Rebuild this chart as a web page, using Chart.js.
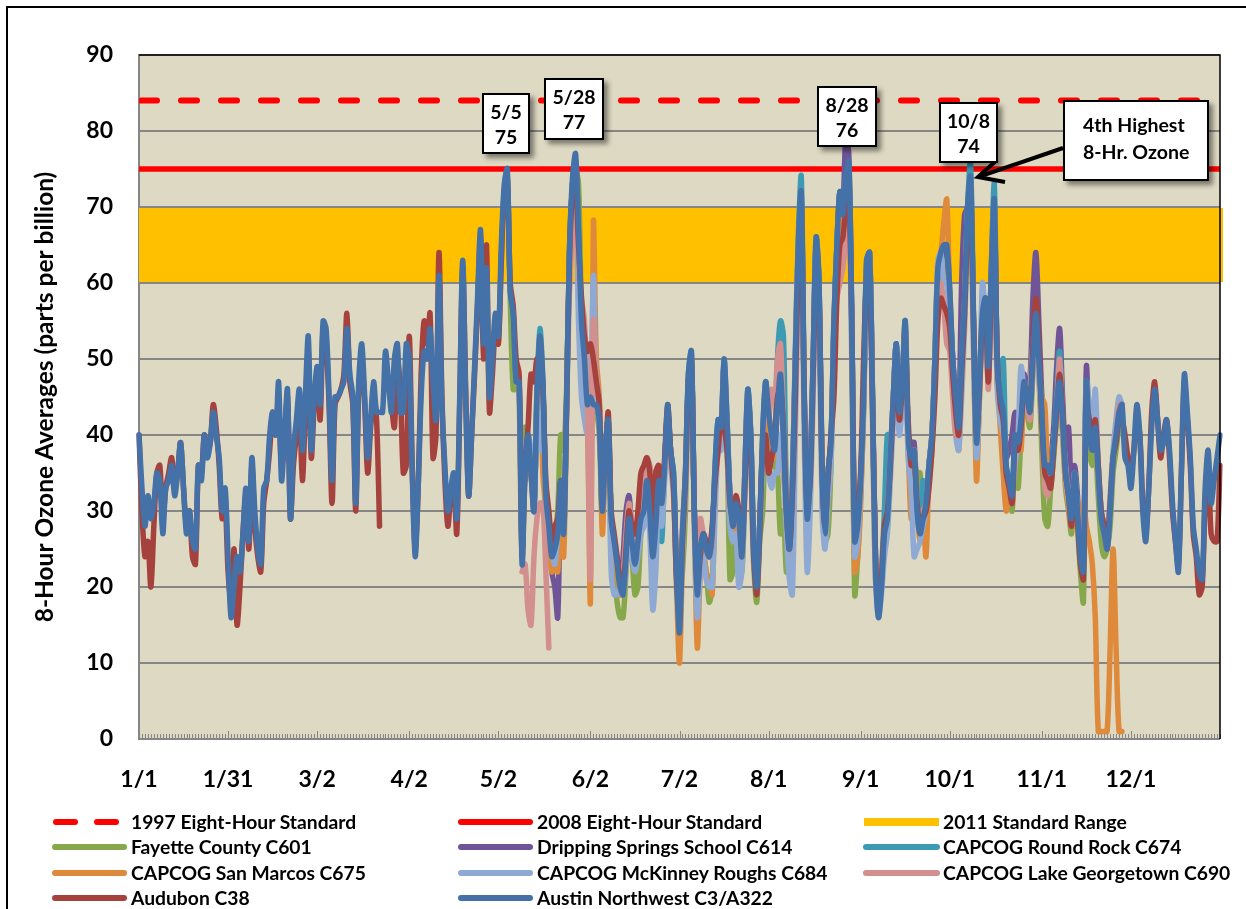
<!DOCTYPE html>
<html>
<head>
<meta charset="utf-8">
<script src="https://cdn.jsdelivr.net/npm/chart.js@4.4.0/dist/chart.umd.min.js"></script>
<style>
  html, body { margin: 0; padding: 0; background: #fff; }
  body { width: 1246px; height: 909px; position: relative; overflow: hidden;
         font-family: Lato, "Open Sans", sans-serif; font-weight: bold; color: #000; }
  #frame { position: absolute; left: 6px; top: 6px; width: 1400px; height: 1100px;
           border: 2px solid #000; box-sizing: border-box; }
  #chartBox { position: absolute; left: 0; top: 0; width: 1246px; height: 909px; }
  .callout { position: absolute; background: #fff; border: 2px solid #000; box-sizing: border-box;
             box-shadow: 4px 4px 5px rgba(0,0,0,0.45); font-size: 19.5px; line-height: 25px;
             text-align: center; padding-top: 4px; }
  .leg { position: absolute; font-size: 19.3px; line-height: 24px; white-space: nowrap; }
  #overlay { position: absolute; left: 0; top: 0; }
</style>
</head>
<body>
<div id="frame"></div>
<div id="chartBox"><canvas id="ozone" width="1246" height="909"></canvas></div>
<svg id="overlay" width="1246" height="909"></svg>
<div class="callout" style="left:482px;top:93px;width:48px;height:61px">5/5<br>75</div>
<div class="callout" style="left:544px;top:78px;width:60px;height:62px">5/28<br>77</div>
<div class="callout" style="left:817px;top:86px;width:60px;height:61px">8/28<br>76</div>
<div class="callout" style="left:939px;top:102px;width:59px;height:61px">10/8<br>74</div>
<div class="callout" style="left:1063px;top:100px;width:146px;height:81px;text-align:left;padding:9px 0 0 18px;line-height:27px">4th Highest<br>8-Hr. Ozone</div>
<div id="legend"></div>

<script>
// standards (ppb)
const std1997 = 84;
const std2008 = 75;
const range2011 = [60, 70];

// x axis: day of year 0..364, labelled days
const tickDays = [0, 30, 60, 91, 121, 152, 182, 212, 243, 273, 304, 334];
const tickLabels = ['1/1', '1/31', '3/2', '4/2', '5/2', '6/2', '7/2', '8/1', '9/1', '10/1', '11/1', '12/1'];

// Austin Northwest C3/A322, whole year
const austinNW = [
  40,33,28,32,29,31,35,34,27,33, 34,36,32,35,39,33,27,30,26,25,
  36,34,40,37,39,43,40,37,30,33, 24,16,20,24,22,27,33,26,37,30,
  25,23,33,34,40,43,40,47,34,40, 46,29,38,42,46,38,45,53,38,45,
  49,44,55,54,45,34,45,45,46,47, 54,48,45,31,47,52,45,37,42,47,
  43,43,43,51,47,43,50,52,43,43, 52,50,35,24,33,45,51,50,54,47,
  42,61,44,36,30,33,35,29,45,63, 45,32,40,49,58,67,52,62,45,50,
  56,53,65,73,75,59,56,47,47,23, 35,40,35,30,45,53,47,32,28,24,
  25,27,34,27,45,65,74,77,67,55, 50,44,45,44,44,42,30,38,42,29,
  26,23,20,19,24,29,26,23,26,29, 30,34,30,24,28,34,31,36,44,38,
  35,22,14,27,35,48,51,30,19,25, 27,25,24,27,36,42,41,50,42,32,
  28,31,29,24,35,46,40,25,20,28, 40,47,43,40,38,44,48,40,30,25,
  33,50,65,72,45,29,35,50,66,60, 35,27,35,39,55,65,72,69,74,76,
  55,26,28,34,45,63,64,45,23,16, 20,27,29,37,45,52,43,47,55,40,
  37,38,30,27,29,31,36,40,50,62, 64,65,65,59,50,45,41,50,58,70,
  74,55,39,47,56,58,49,62,71,49, 45,43,36,34,32,40,39,42,47,45,
  43,50,56,50,43,36,36,35,39,44, 47,42,35,32,29,35,30,24,22,47,
  40,38,41,35,29,27,25,30,37,40, 43,44,37,36,33,38,44,40,30,26,
  33,41,46,42,38,39,42,38,31,26, 22,35,48,43,37,28,25,22,21,33,
  38,31,34,37,40
];

// Audubon C38, whole year (short gap in late March)
const audubon = [
  40,30,24,26,20,28,35,36,29,33, 35,37,33,35,39,33,28,30,24,23,
  36,35,40,38,39,44,41,36,29,31, 22,18,25,15,20,27,32,25,36,28,
  24,22,31,34,38,43,41,43,36,40, 45,29,36,40,44,34,43,51,37,44,
  48,42,54,52,44,31,44,45,46,48, 56,47,44,30,46,50,44,35,41,45,
  42,28,null,null,null,44,41,50,46,35, 36,53,36,25,33,48,55,52,56,37,
  40,64,45,34,28,32,33,27,44,62, 46,32,40,48,57,66,50,65,43,48,
  54,52,63,72,74,60,57,50,48,25, 36,41,48,47,50,50,46,34,30,26,
  28,29,34,29,44,64,72,73,65,58, 53,51,52,50,47,44,32,37,43,30,
  27,24,21,20,25,30,28,27,30,35, 36,37,35,28,35,36,32,37,44,38,
  33,21,16,26,34,47,50,30,20,24, 27,26,25,28,34,38,42,41,38,31,
  29,32,30,25,33,44,38,24,19,27, 38,40,35,37,39,45,46,41,30,25,
  32,45,63,70,45,30,34,48,62,58, 36,28,34,40,45,58,65,66,70,72,
  55,28,30,35,50,60,60,44,24,17, 21,28,30,36,44,50,42,46,52,42,
  36,37,31,28,29,30,33,38,45,55, 58,57,56,54,48,43,40,48,56,67,
  72,55,40,46,55,56,47,60,68,50, 44,42,35,33,31,39,38,41,46,46,
  44,52,58,52,42,35,34,33,38,43, 48,43,35,32,28,34,29,23,21,44,
  42,39,42,36,30,28,26,31,37,39, 42,42,40,37,35,38,42,40,31,27,
  33,43,47,42,37,40,42,37,30,26, 23,35,47,42,36,27,24,19,20,31,
  36,27,26,26,36
];

// seasonal monitors: first day index and values from then on
const fayetteStart = 118;
const fayette = [
  45,50,55,52,63,72,74,58,46,46, 46,26,41,40,36,31,44,51,46,33,
  29,26,27,30,40,38,46,63,72,75, 73,56,49,44,44,43,43,40,29,36,
  40,27,22,18,16,16,22,27,24,19, 20,27,29,33,29,23,27,33,30,35,
  43,37,33,22,18,22,30,46,49,29, 18,23,24,22,18,20,33,40,40,48,
  40,21,22,28,26,22,33,44,37,23, 18,26,30,40,41,38,36,35,27,30,
  22,24,31,48,63,70,43,27,33,48, 64,58,33,26,27,36,52,63,70,67,
  72,74,53,19,24,32,43,61,62,43, 21,18,21,26,28,36,44,50,42,45,
  53,39,35,36,35,35,28,30,34,38, 48,60,62,63,63,57,48,43,39,48,
  56,68,72,53,36,45,54,56,47,60, 69,47,43,41,33,31,30,38,33,40,
  45,43,41,48,54,48,38,29,28,33, 37,42,45,40,33,30,27,33,28,22,
  18,44,38,36,38,32,26,24,25,28, 35,38,41,42
];

const drippingStart = 130;
const dripping = [
  34,39,35,30,44,52,46,31,27,22, 20,16,33,27,44,64,73,76,66,54,
  49,43,44,43,44,42,30,38,41,29, 26,23,20,24,30,32,27,24,26,29,
  30,33,30,25,28,33,31,36,43,38, 34,22,15,26,34,47,50,30,20,25,
  27,25,24,27,35,41,41,49,41,32, 28,30,29,24,34,45,40,25,21,28,
  39,46,42,40,38,44,48,40,30,26, 33,49,64,71,45,29,35,49,65,60,
  35,28,35,39,54,65,72,70,79,77, 56,27,29,34,45,62,64,45,24,17,
  20,27,30,37,45,52,43,47,54,40, 39,39,31,28,29,31,36,40,49,61,
  63,64,64,58,50,45,42,60,69,70, 73,55,40,47,55,57,49,61,70,49,
  45,43,37,38,40,43,40,43,48,46, 47,58,64,55,45,38,37,37,41,49,
  54,45,38,41,32,36,32,25,23,49, 41,39,42,36,30,28,26,31,37,40,
  43,44
];

const roundRockStart = 125;
const roundRock = [
  59,56,47,47,24,36,40,36,31,46, 54,47,32,28,24,25,27,33,27,45,
  65,73,76,66,55,49,44,45,44,44, 42,31,38,42,29,26,23,20,19,24,
  29,26,23,26,29,30,33,30,25,28, 33,26,36,43,38,35,22,15,27,35,
  48,51,30,20,25,27,25,24,27,36, 42,41,50,42,32,28,31,29,24,35,
  46,40,25,21,28,40,47,43,40,38, 50,55,53,32,25,34,51,66,74,46,
  29,35,50,66,60,36,27,35,39,55, 65,72,69,74,75,55,26,28,34,45,
  63,64,45,23,17,22,30,40,38,45, 52,43,47,55,40,37,38,31,29,34,
  31,36,40,50,62,64,65,65,59,50, 45,41,50,58,70,76,56,40,47,56,
  58,49,62,73,49,45,50,36,34,32, 40,39,42,47,45,43,50,56,50,43,
  36,36,35,39,45,51,43,35,32,29, 35,30,25,23,47,40,38,41,35,29,
  27,25,30,37,40,43,44
];

const sanMarcosStart = 128;
const sanMarcos = [
  47,24,35,40,35,31,44,50,35,30, 26,22,23,22,30,24,44,65,73,76,
  66,54,48,42,18,68,50,45,27,36, 40,28,25,22,19,19,23,28,25,22,
  25,28,29,33,29,23,27,33,30,36, 43,37,33,20,10,24,34,47,50,29,
  12,22,25,22,21,19,34,40,40,48, 40,30,27,29,28,23,34,44,38,24,
  20,27,38,44,40,38,37,38,36,35, 29,24,32,49,63,70,44,28,34,48,
  64,58,33,27,34,38,54,64,70,68, 72,73,53,22,24,31,44,62,63,44,
  22,17,21,27,29,36,44,51,42,46, 54,39,29,36,30,26,29,24,35,39,
  50,62,64,68,71,58,49,43,38,48, 57,69,73,54,34,45,55,57,48,61,
  70,48,41,35,30,33,31,38,38,38, 46,44,43,50,55,49,45,44,35,34,
  38,43,46,41,34,31,28,34,29,24, 31,28,26,23,16,1,1,1,1,12,
  25,12,1,1
];

const mcKinneyStart = 128;
const mcKinney = [
  47,25,37,40,38,32,40,38,45,32, 28,25,23,27,33,28,44,60,70,72,
  55,45,42,40,42,61,45,42,31,37, 38,22,19,19,20,19,23,27,24,22,
  24,27,28,31,27,17,22,32,28,34, 41,36,32,21,15,25,33,46,49,28,
  16,22,24,21,20,20,30,38,38,45, 38,28,26,27,20,22,32,43,37,23,
  22,27,36,40,35,33,35,35,40,36, 27,21,19,40,60,68,40,22,30,45,
  62,56,30,25,31,36,50,60,66,63, 70,72,50,24,26,33,44,60,60,42,
  21,16,19,24,27,34,42,49,40,44, 50,37,33,24,25,26,28,30,35,39,
  50,63,64,60,60,55,48,40,38,45, 54,66,70,51,37,45,60,55,47,58,
  66,46,42,40,35,33,33,36,40,49, 46,43,46,52,55,48,42,36,35,35,
  39,43,45,41,36,32,30,35,30,25, 23,47,44,40,46,36,30,28,26,32,
  38,42,45,44
];

const georgetownStart = 129;
const georgetown = [
  22,23,17,15,24,29,31,31,22,12, null,null,null,null,null,
  48,60,66,70,62,58,55,44,21,55, 48,44,33,38,41,29,26,23,21,22,
  27,31,28,26,28,30,33,37,36,34, 30,34,31,36,43,38,34,22,17,28,
  35,47,50,30,21,29,27,25,24,26, 35,41,41,49,41,32,28,31,29,24,
  35,45,39,26,21,28,39,45,42,46, 44,50,52,42,31,27,34,50,64,70,
  46,30,36,50,64,58,37,28,35,39, 52,58,60,62,66,68,55,28,29,35,
  45,62,63,45,24,17,21,27,30,37, 45,51,43,47,54,40,37,38,31,28,
  30,31,36,40,49,58,60,57,52,51, 45,40,40,48,57,69,72,54,40,46,
  55,57,46,60,70,48,44,42,35,33, 31,39,38,41,46,44,42,49,55,49,
  42,33,32,34,38,43,50,42,34,31, 28,34,29,24,22,46,40,38,41,35,
  29,27,25,30,37,40,44,44
];

const DAYS = 365;
const days = Array.from({ length: DAYS }, (_, i) => i);
function fromDay(start, vals) {
  const out = new Array(DAYS).fill(null);
  vals.forEach((v, i) => { if (start + i < DAYS) out[start + i] = v; });
  return out;
}

// legend order; "order" = stacking (0 on top)
const series = [
  { label: 'Fayette County C601',            data: fromDay(fayetteStart, fayette),       color: '#87A84A', order: 7 },
  { label: 'Dripping Springs School C614',   data: fromDay(drippingStart, dripping),     color: '#6F5597', order: 6 },
  { label: 'CAPCOG Round Rock C674',         data: fromDay(roundRockStart, roundRock),   color: '#3C9AB2', order: 5 },
  { label: 'CAPCOG San Marcos C675',         data: fromDay(sanMarcosStart, sanMarcos),   color: '#DF8A3A', order: 4 },
  { label: 'CAPCOG McKinney Roughs C684',    data: fromDay(mcKinneyStart, mcKinney),     color: '#8EA9D3', order: 3 },
  { label: 'CAPCOG Lake Georgetown C690',    data: fromDay(georgetownStart, georgetown), color: '#D38E8E', order: 2 },
  { label: 'Audubon C38',                    data: audubon,                               color: '#A6423E', order: 1 },
  { label: 'Austin Northwest C3/A322',       data: austinNW,                              color: '#4471A8', order: 0 }
];

const FONT = 'Lato, "Open Sans", sans-serif';

const plotBg = {
  id: 'plotBg',
  beforeDraw(chart) {
    const { ctx, chartArea: a } = chart;
    ctx.save();
    ctx.fillStyle = '#DDD9C3';
    ctx.fillRect(a.left, a.top, a.right - a.left, a.bottom - a.top);
    ctx.restore();
  }
};

// yellow range and the two standards, under the data
const standards = {
  id: 'standards',
  beforeDatasetsDraw(chart) {
    const { ctx, chartArea: a, scales: { y } } = chart;
    ctx.save();
    const top = y.getPixelForValue(range2011[1]) + 1;
    const bot = y.getPixelForValue(range2011[0]) - 1;
    ctx.fillStyle = '#FFC000';
    ctx.fillRect(a.left, top, a.right - a.left + 3, bot - top);

    ctx.beginPath();
    ctx.rect(a.left, a.top, a.right - a.left, a.bottom - a.top);
    ctx.clip();
    ctx.strokeStyle = '#FF0000';
    ctx.lineWidth = 5.5;
    let yy = y.getPixelForValue(std2008);
    ctx.beginPath(); ctx.moveTo(a.left, yy); ctx.lineTo(a.right, yy); ctx.stroke();

    ctx.lineWidth = 6;
    ctx.lineCap = 'round';
    ctx.setLineDash([16, 24]);
    yy = y.getPixelForValue(std1997);
    ctx.beginPath(); ctx.moveTo(a.left + 2, yy); ctx.lineTo(a.right - 10, yy); ctx.stroke();
    ctx.restore();
  }
};

// little day ticks inside the bottom axis, plus the dark top/right border
const frameBits = {
  id: 'frameBits',
  afterDatasetsDraw(chart) {
    const { ctx, chartArea: a, scales: { x } } = chart;
    ctx.save();
    ctx.strokeStyle = '#868686';
    ctx.lineWidth = 1;
    for (let i = 0; i < DAYS; i++) {
      const px = Math.round(x.getPixelForValue(i)) + 0.5;
      const len = tickDays.includes(i) ? 7 : 4;
      ctx.beginPath(); ctx.moveTo(px, a.bottom - 1); ctx.lineTo(px, a.bottom - 1 - len); ctx.stroke();
    }
    ctx.strokeStyle = '#000';
    ctx.lineWidth = 1.5;
    ctx.beginPath();
    ctx.moveTo(a.left, a.top); ctx.lineTo(a.right, a.top); ctx.lineTo(a.right, a.bottom);
    ctx.stroke();
    ctx.restore();
  }
};

new Chart(document.getElementById('ozone'), {
  type: 'line',
  data: {
    labels: days,
    datasets: series.map(s => ({
      label: s.label,
      data: s.data,
      borderColor: s.color,
      backgroundColor: s.color,
      borderWidth: 5.5,
      pointRadius: 0,
      tension: 0.3,
      spanGaps: false,
      borderCapStyle: 'round',
      borderJoinStyle: 'round',
      order: s.order
    }))
  },
  options: {
    responsive: false,
    devicePixelRatio: 1,
    animation: false,
    layout: { padding: { left: 28, right: 26, top: 55, bottom: 110 } },
    plugins: { legend: { display: false }, tooltip: { enabled: false } },
    scales: {
      x: {
        type: 'category',
        offset: false,
        grid: { display: false },
        border: { display: false },
        ticks: {
          autoSkip: false,
          maxRotation: 0,
          minRotation: 0,
          padding: 19,
          color: '#000',
          font: { family: FONT, size: 23, weight: 'bold' },
          callback: (v, i) => {
            const k = tickDays.indexOf(i);
            return k >= 0 ? tickLabels[k] : '';
          }
        },
        afterFit: s => { s.height = 60; }
      },
      y: {
        min: 0,
        max: 90,
        ticks: {
          stepSize: 10,
          padding: 26,
          color: '#000',
          font: { family: FONT, size: 23, weight: 'bold' }
        },
        grid: { color: '#868686', lineWidth: 2, drawTicks: false },
        border: { display: true, color: '#868686', width: 2 },
        title: {
          display: true,
          text: '8-Hour Ozone Averages (parts per billion)',
          color: '#000',
          font: { family: FONT, size: 24.5, weight: 'bold' },
          padding: { top: 2, bottom: 0 }
        },
        afterFit: s => { s.width = 111; }
      }
    }
  },
  plugins: [plotBg, standards, frameBits]
});

// legend: 3 columns, rows filled left to right
const legendItems = [
  { label: '1997 Eight-Hour Standard', color: '#FF0000', kind: 'dash' },
  { label: '2008 Eight-Hour Standard', color: '#FF0000', kind: 'line' },
  { label: '2011 Standard Range',      color: '#FFC000', kind: 'band' }
].concat(series.map(s => ({ label: s.label, color: s.color, kind: 'line' })));

const colText = [131, 537, 943];
const colLine = [[55, 124], [461, 530], [866, 937]];
const rowY = [822, 847, 873, 898];
const svgNS = 'http://www.w3.org/2000/svg';
const svg = document.getElementById('overlay');
const legendBox = document.getElementById('legend');

function svgEl(name, attrs) {
  const el = document.createElementNS(svgNS, name);
  for (const k in attrs) el.setAttribute(k, attrs[k]);
  svg.appendChild(el);
  return el;
}

legendItems.forEach((it, i) => {
  const c = i % 3, r = Math.floor(i / 3);
  const y = rowY[r];
  const [x1, x2] = colLine[c];
  if (it.kind === 'band') {
    svgEl('rect', { x: x1 - 2, y: y - 4, width: x2 - x1 + 4, height: 8, fill: it.color });
  } else if (it.kind === 'dash') {
    svgEl('line', { x1: x1 + 1, y1: y, x2: x1 + 20, y2: y, stroke: it.color, 'stroke-width': 6, 'stroke-linecap': 'round' });
    svgEl('line', { x1: x1 + 42, y1: y, x2: x1 + 61, y2: y, stroke: it.color, 'stroke-width': 6, 'stroke-linecap': 'round' });
  } else {
    svgEl('line', { x1: x1, y1: y, x2: x2, y2: y, stroke: it.color, 'stroke-width': 6, 'stroke-linecap': 'round' });
  }
  const d = document.createElement('div');
  d.className = 'leg';
  d.style.left = colText[c] + 'px';
  d.style.top = (y - 12) + 'px';
  d.textContent = it.label;
  legendBox.appendChild(d);
});

// arrow from the "4th Highest" note to the 10/8 peak
svgEl('line', { x1: 1063, y1: 148, x2: 981, y2: 176, stroke: '#000', 'stroke-width': 4 });
svgEl('polyline', { points: '997,160 978,177 1005,182', fill: 'none', stroke: '#000', 'stroke-width': 4 });
</script>
</body>
</html>
